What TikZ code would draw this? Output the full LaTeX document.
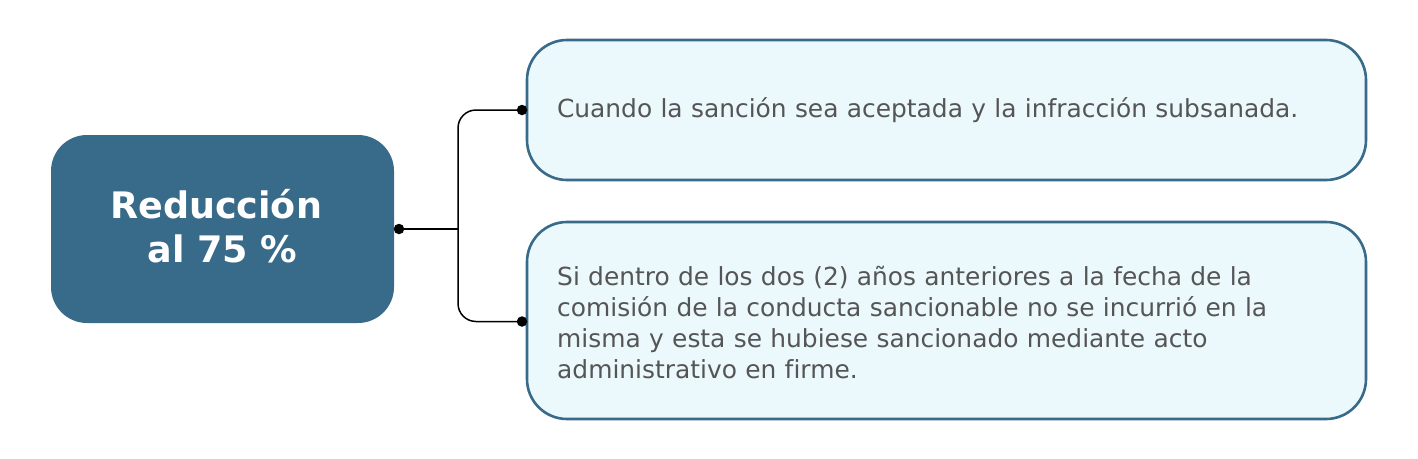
\documentclass[tikz,border=0pt]{standalone}
\usepackage{fontspec}
\setmainfont[Ligatures=NoCommon]{DejaVu Sans}
\definecolor{mainblue}{HTML}{386A8A}
\definecolor{lightfill}{HTML}{EBF8FC}
\definecolor{txtgray}{HTML}{555555}
\tikzset{
  mainbox/.style={draw=none, fill=mainblue, rounded corners=36pt, minimum width=343pt, minimum height=188pt,
    text=white, font=\fontsize{36.5}{44}\selectfont\bfseries, align=center, inner sep=0pt},
  leafbox/.style={draw=mainblue, line width=2.6pt, fill=lightfill, rounded corners=40pt,
    text=txtgray, font=\fontsize{24.9}{31.3}\selectfont, align=left, text width=779pt, inner xsep=30pt, inner ysep=0pt},
  conn/.style={black, line width=1.5pt},
  dot/.style={circle, fill=black, inner sep=0pt, minimum size=10.5pt}
}
\begin{document}
\begin{tikzpicture}[x=1pt,y=-1pt]
\useasboundingbox (0,0) rectangle (1418,458);
\node[mainbox] (main) at (222.5,229) {};
\node[text=white, font=\fontsize{36.5}{44}\selectfont\bfseries, align=center, inner sep=0pt] (title) at (222.5,226) {Reducción\rule{0.35em}{0pt}\\al 75 \%};
\node[leafbox, minimum height=140pt] (top) at (946.5,110) {Cuando la sanción sea aceptada y la infracción subsanada.};
\node[leafbox, minimum height=197pt] (bot) at (946.5,320.5) {};
\node[text=txtgray, font=\fontsize{24.9}{31.3}\selectfont, align=left, text width=779pt, inner sep=0pt, anchor=west] (bottxt) at (557,322.5) {Si dentro de los dos (2) años anteriores a la fecha de la\\comisión de la conducta sancionable no se incurrió en la\\misma y esta se hubiese sancionado mediante acto\\administrativo en firme.};
\coordinate (junc) at (458,229);
\coordinate (d0) at (399,229);
\coordinate (d1) at (522,110);
\coordinate (d2) at (522,321.5);
\draw[conn] (d0) -- (junc);
\draw[conn, rounded corners=18pt] (junc) |- (d1);
\draw[conn, rounded corners=18pt] (junc) |- (d2);
\node[dot] (n0) at (d0) {};
\node[dot] (n1) at (d1) {};
\node[dot] (n2) at (d2) {};
\end{tikzpicture}
\end{document}
